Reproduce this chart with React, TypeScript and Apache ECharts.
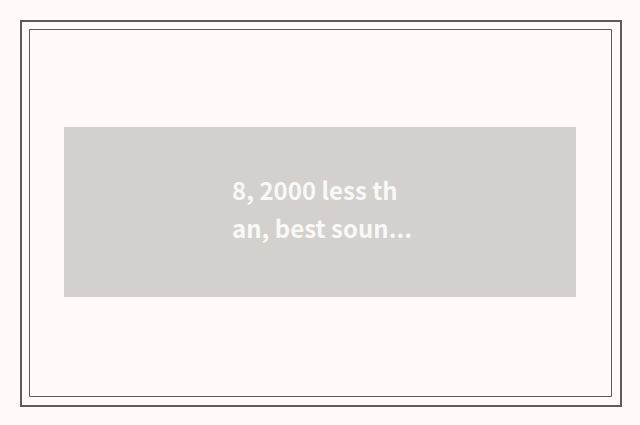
import { useEffect, useRef } from 'react';
import * as echarts from 'echarts';

// one single cell treemap
const names = ['8, 2000 less than, best sound quality'];
const values = [1];
const cellColors = ['#d3d0cd'];

const LABEL_FONT_SIZE = 24;
const LABEL_FONT = `bold ${LABEL_FONT_SIZE}px "Noto Sans CJK SC"`;
const LABEL_WIDTH = 170;
const MAX_LINES = 2;

// break by characters, keep two lines, end with "..." when cut
function wrapLabel(text: string): string {
  const ctx = document.createElement('canvas').getContext('2d');
  if (!ctx) return text;
  ctx.font = LABEL_FONT;
  const lines: string[] = [];
  let line = '';
  for (let i = 0; i < text.length; i++) {
    const next = line + text[i];
    if (line && ctx.measureText(next).width > LABEL_WIDTH) {
      lines.push(line);
      if (lines.length === MAX_LINES) {
        lines[MAX_LINES - 1] += '...';
        return lines.join('\n');
      }
      line = text[i];
    } else {
      line = next;
    }
  }
  lines.push(line);
  return lines.join('\n');
}

function App() {
  const chartRef = useRef<HTMLDivElement>(null);

  useEffect(() => {
    if (!chartRef.current) return;
    const chart = echarts.init(chartRef.current, null, { renderer: 'svg' });

    const option: echarts.EChartsOption = {
      animation: false,
      backgroundColor: '#fffaf7',
      graphic: [
        {
          type: 'rect',
          shape: { x: 21, y: 21, width: 600, height: 385 },
          style: { fill: 'none', stroke: '#5f5b59', lineWidth: 2 },
        },
        {
          type: 'rect',
          shape: { x: 29.5, y: 29.5, width: 582, height: 367 },
          style: { fill: 'none', stroke: '#5f5b59', lineWidth: 1 },
        },
      ],
      series: [
        {
          type: 'treemap',
          left: 64,
          top: 127,
          width: 512,
          height: 170,
          roam: false,
          nodeClick: false,
          breadcrumb: { show: false },
          itemStyle: { borderWidth: 0, gapWidth: 0 },
          label: {
            show: true,
            position: [168, 81],
            align: 'left',
            verticalAlign: 'middle',
            padding: 0,
            overflow: 'none',
            color: '#f9f8f6',
            fontFamily: 'Noto Sans CJK SC',
            fontWeight: 'bold',
            fontSize: LABEL_FONT_SIZE,
            lineHeight: 38,
            formatter: (p: any) => wrapLabel(p.name),
          },
          emphasis: { disabled: true },
          data: names.map((name, i) => ({
            name,
            value: values[i],
            itemStyle: { color: cellColors[i] },
          })),
        },
      ],
    };

    chart.setOption(option);
    return () => {
      chart.dispose();
    };
  }, []);

  return (
    <div
      ref={chartRef}
      style={{ position: 'fixed', left: 0, top: 0, width: '640px', height: '425px' }}
    />
  );
}

export default App;
